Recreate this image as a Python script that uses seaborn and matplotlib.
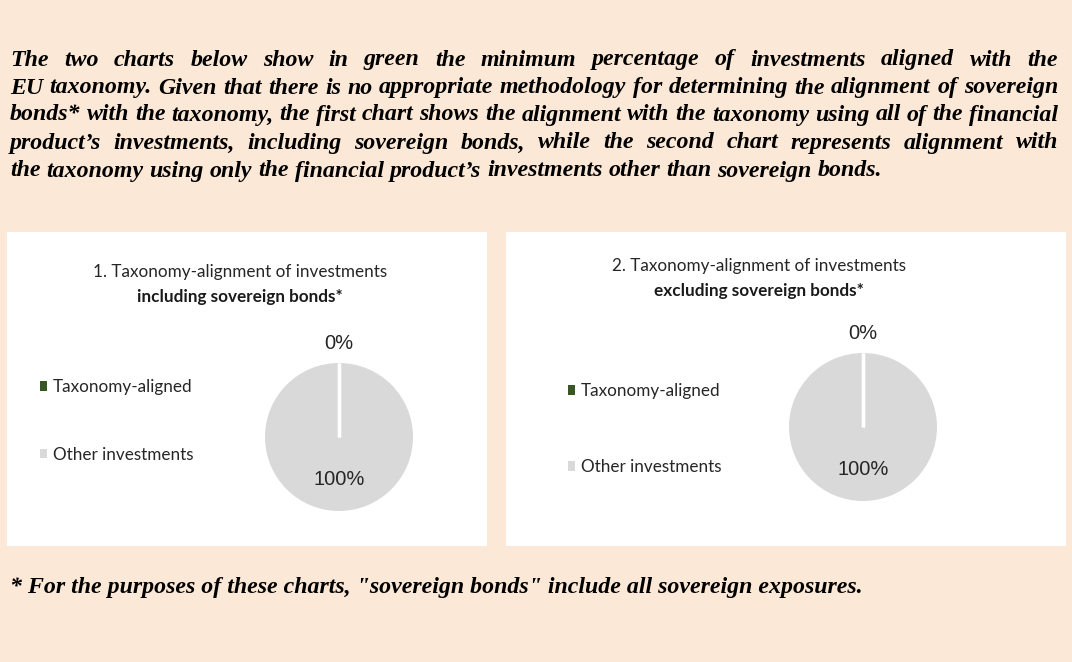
import matplotlib
matplotlib.use("Agg")
import matplotlib.pyplot as plt
from matplotlib import font_manager as fm
from matplotlib.patches import Rectangle
import numpy as np
import seaborn as sns

# ---- datos ----
categorias = ["Taxonomy-aligned", "Other investments"]
valores_incl = [0, 100]
valores_excl = [0, 100]
colores = ["#375623", "#D9D9D9"]

titulo1 = ["1. Taxonomy-alignment of investments", "including sovereign bonds*"]
titulo2 = ["2. Taxonomy-alignment of investments", "excluding sovereign bonds*"]

encabezado = [
    "The two charts below show in green the minimum percentage of investments aligned with the",
    "EU taxonomy. Given that there is no appropriate methodology for determining the alignment of sovereign",
    "bonds* with the taxonomy, the first chart shows the alignment with the taxonomy using all of the financial",
    "product\u2019s investments, including sovereign bonds, while the second chart represents alignment with",
    "the taxonomy using only the financial product\u2019s investments other than sovereign bonds.",
]
nota = "* For the purposes of these charts, \"sovereign bonds\" include all sovereign exposures."

W, H = 1072, 662
FONDO = "#FBE8D6"

sns.set_style("white")
plt.rcParams["font.family"] = ["Liberation Sans", "DejaVu Sans"]

# fuente fija para el texto en serif (negrita cursiva)
ruta_serif = fm.findfont(fm.FontProperties(family="Liberation Serif", weight="bold", style="italic"))
fp_serif = fm.FontProperties(fname=ruta_serif, size=17.2)

fig = plt.figure(figsize=(W / 100, H / 100), dpi=100, facecolor=FONDO)


def fx(px):
    return px / W


def fy(py):
    return 1 - py / H


def texto_justificado(lineas, x0, x1, ys, fp):
    r = fig.canvas.get_renderer()
    a = fig.text(0, 0, "a a", fontproperties=fp)
    b = fig.text(0, 0, "aa", fontproperties=fp)
    espacio = a.get_window_extent(r).width - b.get_window_extent(r).width
    a.remove()
    b.remove()
    for i, linea in enumerate(lineas):
        palabras = linea.split()
        textos = [fig.text(0, 0, p, va="center", ha="left", fontproperties=fp, color="black")
                  for p in palabras]
        anchos = [t.get_window_extent(r).width for t in textos]
        if i == len(lineas) - 1:
            gap = espacio
        else:
            gap = (x1 - x0 - sum(anchos)) / (len(palabras) - 1)
        x = x0
        for t, w in zip(textos, anchos):
            t.set_position((fx(x), fy(ys[i])))
            x += w + gap


texto_justificado(encabezado, 10, 1058, [60, 88, 115, 143, 171], fp_serif)
fig.text(fx(10), fy(588), nota, va="center", ha="left", fontproperties=fp_serif, color="black")

# paneles blancos
for x0, x1 in [(7, 487), (506, 1066)]:
    fig.patches.append(Rectangle((fx(x0), fy(546)), fx(x1) - fx(x0), fy(232) - fy(546),
                                 transform=fig.transFigure, facecolor="white",
                                 edgecolor="none", zorder=-5))


def torta(valores, cx, cy, r, titulo, tx, ty, leg_x, leg_y, espaciado):
    L = 1.5
    half = r * L
    ax = fig.add_axes([fx(cx - half), fy(cy + half), 2 * half / W, 2 * half / H])
    ax.set_zorder(2)
    wedges, _ = ax.pie(valores, colors=colores, startangle=90, counterclock=False,
                       wedgeprops=dict(edgecolor="none", linewidth=0))
    ax.set_xlim(-L, L)
    ax.set_ylim(-L, L)
    ax.axis("off")
    # separadores blancos entre porciones
    for w in wedges:
        ang = np.deg2rad(w.theta1)
        ax.plot([0, np.cos(ang)], [0, np.sin(ang)], color="white", lw=2.4,
                solid_capstyle="butt", zorder=4)
    for w, v in zip(wedges, valores):
        ang = np.deg2rad((w.theta1 + w.theta2) / 2)
        d = 1.27 if v < 5 else 0.58
        ax.text(d * np.cos(ang), d * np.sin(ang), f"{v}%", ha="center", va="center",
                fontsize=14.5, color="#262626", family="Liberation Sans")

    fig.text(fx(tx), fy(ty), titulo[0], ha="center", va="center", fontsize=12.3,
             color="#262626", family="Lato")
    fig.text(fx(tx), fy(ty + 25), titulo[1], ha="center", va="center", fontsize=12.3,
             color="#1a1a1a", family="Lato", weight="bold")

    fig.legend(wedges, categorias, loc="center left",
               bbox_to_anchor=(fx(leg_x), fy(leg_y)), frameon=False,
               prop=dict(family="Lato", size=12.3), labelcolor="#262626",
               handlelength=0.42, handleheight=0.5, handletextpad=0.35,
               labelspacing=espaciado, borderaxespad=0, borderpad=0)


torta(valores_incl, 339, 437, 74, titulo1, 240, 272, 40, 421, 3.0)
torta(valores_excl, 863, 427, 74, titulo2, 759, 266, 568, 429, 3.5)

fig.savefig("out.png", dpi=100, facecolor=FONDO)
